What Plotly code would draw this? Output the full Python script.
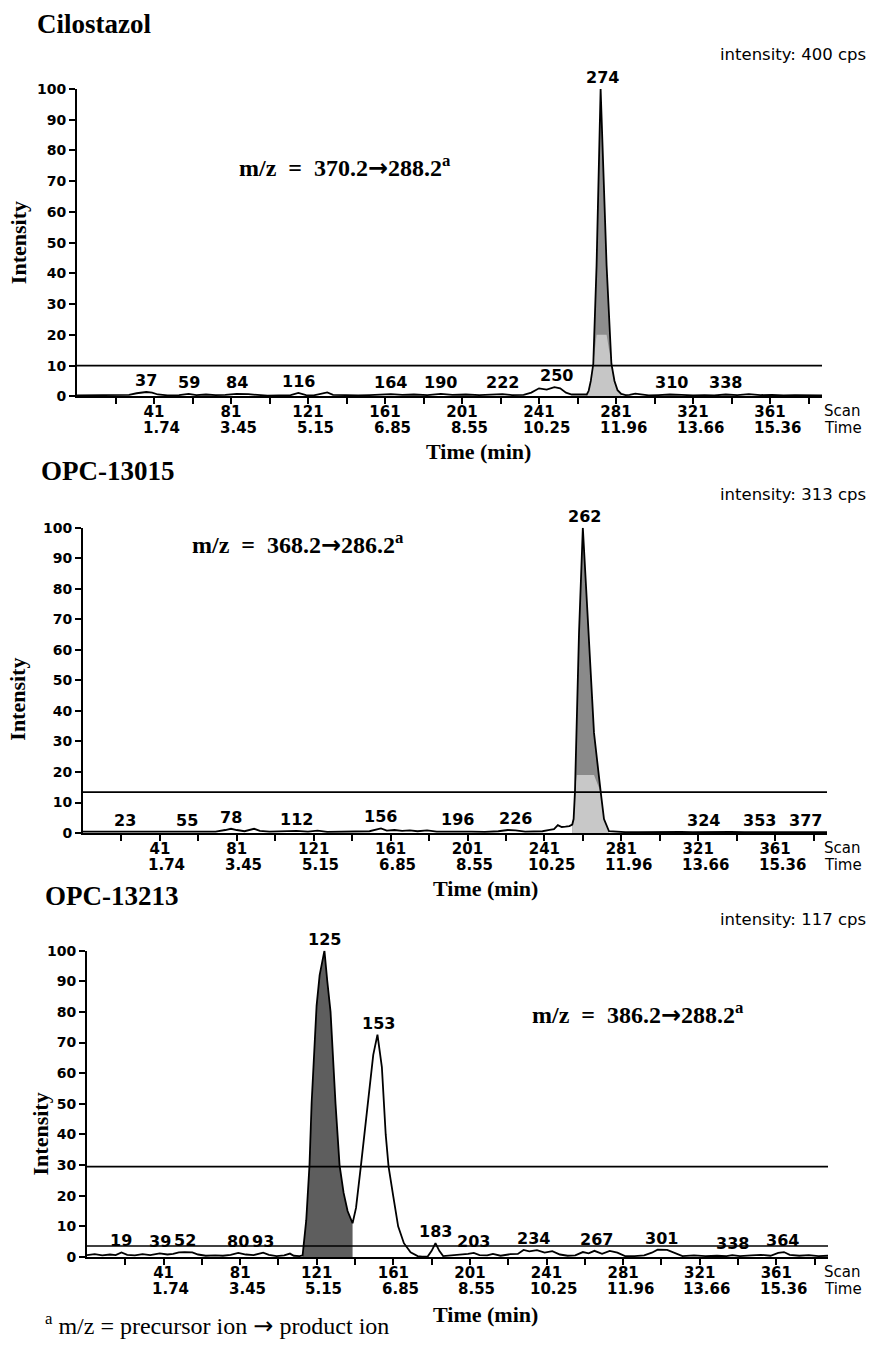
import plotly.graph_objects as go

W, H = 875, 1345

# ---------------- data ----------------
tick_scans = [21, 41, 61, 81, 101, 121, 141, 161, 181, 201, 221, 241, 261, 281, 301, 321, 341, 361, 381]
labeled_scans = [41, 81, 121, 161, 201, 241, 281, 321, 361]
time_labels = ['1.74', '3.45', '5.15', '6.85', '8.55', '10.25', '11.96', '13.66', '15.36']
y_ticks = [0, 10, 20, 30, 40, 50, 60, 70, 80, 90, 100]

# Cilostazol  (m/z 370.2 -> 288.2)
cilo_scan = [1, 8, 15, 22, 28, 32, 35, 37, 40, 43,
             48, 54, 59, 63, 68, 73, 78, 84, 90, 95,
             100, 106, 112, 116, 120, 124, 128, 131, 134, 140,
             147, 153, 158, 164, 170, 176, 183, 190, 196, 203,
             210, 216, 222, 227, 233, 237, 241, 245, 249, 252,
             255, 258, 262, 265.8, 266.8, 267.9, 269.2, 270.9, 273, 276.1,
             278.6, 280.2, 281.8, 283.7, 286, 288, 291, 294, 298, 303,
             309, 315, 321, 327, 332, 338, 344, 350, 356, 362,
             368, 374, 380, 386, 388]
cilo_int = [0.3, 0.4, 0.3, 0.4, 0.5, 1.0, 1.3, 1.4, 1.2, 0.6,
            0.3, 0.4, 0.8, 0.4, 0.6, 0.4, 0.5, 0.8, 0.7, 0.5,
            0.2, 0.3, 0.4, 1.1, 0.4, 0.3, 0.9, 1.3, 0.5, 0.3,
            0.3, 0.4, 0.5, 0.7, 0.5, 0.6, 0.4, 0.8, 0.5, 0.6,
            0.4, 0.5, 0.7, 0.4, 0.5, 1.2, 2.6, 2.2, 3.0, 2.6,
            1.2, 0.6, 0.5, 0.6, 1.8, 5.0, 10.6, 42.6, 100, 42.6,
            10.6, 5.0, 2.0, 0.8, 0.4, 0.5, 0.9, 0.6, 0.3, 0.4,
            0.6, 0.5, 0.3, 0.4, 0.3, 0.6, 0.4, 0.7, 0.4, 0.5,
            0.3, 0.4, 0.3, 0.3, 0.3]
cilo_peaks = [37, 59, 84, 116, 164, 190, 222, 250, 274, 310, 338]
cilo_lines = [10]

# OPC-13015  (m/z 368.2 -> 286.2)
opc15_scan = [1, 8, 15, 23, 30, 38, 45, 55, 62, 70,
              75, 78, 81, 85, 90, 93, 98, 105, 112, 118,
              123, 128, 135, 142, 150, 156, 159, 163, 167, 171,
              175, 180, 185, 190, 196, 203, 210, 217, 222, 226,
              231, 236, 240, 243, 246, 248, 250, 252, 254, 255.5,
              256.2, 256.9, 257.8, 259, 261, 264.1, 266.8, 270.3, 272, 274.6,
              278, 283, 290, 297, 305, 312, 318, 324, 330, 338,
              345, 353, 360, 367, 377, 383, 388]
opc15_int = [0.5, 0.5, 0.4, 0.5, 0.5, 0.4, 0.5, 0.5, 0.4, 0.5,
             1.0, 1.4, 1.0, 0.6, 1.4, 0.7, 0.5, 0.6, 0.7, 0.5,
             0.8, 0.4, 0.5, 0.4, 0.6, 1.5, 0.8, 1.0, 0.7, 0.9,
             0.6, 0.9, 0.5, 0.5, 0.6, 0.5, 0.4, 0.6, 1.0, 0.9,
             0.5, 0.5, 0.6, 1.0, 1.3, 2.6, 2.0, 2.1, 2.3, 2.8,
             4.6, 13.4, 32.8, 65.4, 100, 65.4, 32.8, 13.4, 4.6, 0.6,
             0.4, 0.3, 0.3, 0.4, 0.3, 0.4, 0.3, 0.4, 0.3, 0.4,
             0.3, 0.4, 0.3, 0.3, 0.4, 0.3, 0.3]
opc15_peaks = [23, 55, 78, 112, 156, 196, 226, 262, 324, 353, 377]
opc15_lines = [13.4]

# OPC-13213  (m/z 386.2 -> 288.2)
opc13_scan = [1, 5, 9, 13, 16, 19, 22, 26, 30, 34,
              39, 43, 46, 49, 52, 56, 59, 63, 68, 72,
              76, 80, 84, 88, 93, 96, 100, 104, 107, 109,
              112, 113.6, 115.5, 117.2, 118.3, 119.5, 120.9, 122.5, 125, 126.5,
              128.2, 130.8, 132.9, 135, 137.1, 139.7, 141.5, 144, 147.5, 149,
              150.5, 152.7, 155, 157, 158.5, 161, 163.5, 166.5, 170, 173.7,
              176, 179, 181, 183, 185, 187, 191, 196, 200, 203,
              206, 210, 213, 217, 222, 226, 229, 232, 236, 240,
              244, 248, 252, 256, 260, 263, 266, 270, 274, 278,
              282, 287, 292, 296, 299, 304, 308, 312, 318, 324,
              330, 335, 338, 342, 348, 353, 358, 362, 365, 368,
              373, 378, 383, 388]
opc13_int = [0.6, 0.9, 0.5, 0.8, 0.6, 1.5, 0.7, 0.5, 0.9, 0.6,
             1.2, 0.8, 1.0, 1.5, 1.6, 1.5, 0.8, 0.4, 0.5, 0.4,
             0.7, 1.3, 0.8, 0.6, 1.4, 0.7, 0.3, 0.5, 1.1, 0.4,
             0.3, 0.5, 12, 30, 50, 65, 82, 92, 100, 90,
             80, 50, 30, 21, 15, 11, 16, 29.5, 50, 58,
             66, 72.6, 62, 40, 29.5, 19.6, 10, 4.5, 1.5, 0.3,
             0.1, 0.2, 2.0, 4.5, 2.0, 0.3, 0.5, 0.6, 1.0, 1.3,
             0.6, 0.5, 1.0, 0.4, 0.9, 1.0, 2.3, 1.8, 2.2, 1.4,
             1.9, 0.8, 0.4, 0.5, 1.6, 1.2, 2.0, 1.0, 2.0, 1.4,
             0.3, 0.3, 0.5, 1.4, 2.4, 2.3, 1.2, 0.3, 0.5, 0.3,
             0.4, 0.3, 0.6, 0.3, 0.5, 0.7, 0.4, 1.3, 1.6, 0.7,
             0.4, 0.6, 0.3, 0.4]
opc13_peaks = [19, 39, 52, 80, 93, 125, 153, 183, 203, 234, 267, 301, 338, 364]
opc13_lines = [29.5, 3.6]

assert len(cilo_scan) == len(cilo_int)
assert len(opc15_scan) == len(opc15_int)
assert len(opc13_scan) == len(opc13_int)

# ---------------- layout helpers ----------------
def px(x):
    return x / W

def py(y):
    return 1 - y / H

SERIF = 'Liberation Serif'
SANS = 'DejaVu Sans'
X_RANGE = [1, 388]
ARROW = '<span style="font-family:DejaVu Sans">\u2192</span>'

panels = [
    dict(title='Cilostazol', title_xy=(35, 16), cps='intensity: 400 cps', cps_y=47,
         mz='m/z\u00a0 =\u00a0 370.2' + ARROW + '288.2<sup>a</sup>', mz_xy=(237, 160),
         scans=cilo_scan, vals=cilo_int, peaks=cilo_peaks, lines=cilo_lines,
         xpx=(77, 822), ypx=(393, 82), fill=(265.8, 283.7), dark='#8e8e8e',
         light='#c6c6c6', cap=20, timemin=(478, 449), ylab=(18, 238)),
    dict(title='OPC-13015', title_xy=(39, 469), cps='intensity: 313 cps', cps_y=492,
         mz='m/z\u00a0 =\u00a0 368.2' + ARROW + '286.2<sup>a</sup>', mz_xy=(190, 542),
         scans=opc15_scan, vals=opc15_int, peaks=opc15_peaks, lines=opc15_lines,
         xpx=(83, 827), ypx=(835, 526), fill=(255.5, 274.6), dark='#8a8a8a',
         light='#c8c8c8', cap=19, timemin=(485, 891), ylab=(18, 700)),
    dict(title='OPC-13213', title_xy=(43, 899), cps='intensity: 117 cps', cps_y=922,
         mz='m/z\u00a0 =\u00a0 386.2' + ARROW + '288.2<sup>a</sup>', mz_xy=(530, 1018),
         scans=opc13_scan, vals=opc13_int, peaks=opc13_peaks, lines=opc13_lines,
         xpx=(87, 828), ypx=(1264, 954), fill=(113.6, 139.7), dark='#5e5e5e',
         light=None, cap=None, timemin=(486, 1322), ylab=(40, 1140)),
]

fig = go.Figure()
annotations = []
shapes = []
layout_axes = {}

tick_text = []
for s in tick_scans:
    tick_text.append(str(s) if s in labeled_scans else '')

for i, p in enumerate(panels, start=1):
    xa = 'x' if i == 1 else f'x{i}'
    ya = 'y' if i == 1 else f'y{i}'
    xkey = 'xaxis' if i == 1 else f'xaxis{i}'
    ykey = 'yaxis' if i == 1 else f'yaxis{i}'

    layout_axes[xkey] = dict(
        domain=[px(p['xpx'][0]), px(p['xpx'][1])], range=X_RANGE, anchor=ya,
        showline=True, linecolor='black', linewidth=2, ticks='outside',
        ticklen=6, tickwidth=2, tickcolor='black', tickvals=tick_scans,
        ticktext=tick_text, showgrid=False, zeroline=False, fixedrange=True,
        ticklabelstandoff=-5,
        tickfont=dict(family=SANS, size=15, color='black', weight='bold'),
    )
    layout_axes[ykey] = dict(
        domain=[py(p['ypx'][0]), py(p['ypx'][1])], range=[0, 100], anchor=xa,
        showline=True, linecolor='black', linewidth=2, ticks='outside',
        ticklen=6, tickwidth=2, tickcolor='black', tickvals=y_ticks,
        showgrid=False, zeroline=False, fixedrange=True,
        tickfont=dict(family=SANS, size=14, color='black', weight='bold'),
    )

    scans, vals = p['scans'], p['vals']
    f0, f1 = p['fill']
    fx = [s for s in scans if f0 <= s <= f1]
    fy = [v for s, v in zip(scans, vals) if f0 <= s <= f1]
    fig.add_trace(go.Scatter(x=fx, y=fy, xaxis=xa, yaxis=ya, mode='lines',
                             line=dict(width=0), fill='tozeroy',
                             fillcolor=p['dark'], hoverinfo='skip', showlegend=False))
    if p['light']:
        fig.add_trace(go.Scatter(x=fx, y=[min(v, p['cap']) for v in fy], xaxis=xa,
                                 yaxis=ya, mode='lines', line=dict(width=0),
                                 fill='tozeroy', fillcolor=p['light'],
                                 hoverinfo='skip', showlegend=False))
    fig.add_trace(go.Scatter(x=scans, y=vals, xaxis=xa, yaxis=ya, mode='lines',
                             line=dict(color='black', width=1.8),
                             showlegend=False, hoverinfo='skip'))

    for lv in p['lines']:
        shapes.append(dict(type='line', xref=xa, yref=ya, x0=X_RANGE[0],
                           x1=X_RANGE[1], y0=lv, y1=lv,
                           line=dict(color='black', width=1.6)))

    # peak labels
    for pk in p['peaks']:
        win = [v for s, v in zip(scans, vals) if abs(s - pk) <= 4]
        top = max(win) if win else 0.5
        annotations.append(dict(x=pk, y=top, xref=xa, yref=ya, text=str(pk),
                                showarrow=False, yanchor='bottom', yshift=0,
                                font=dict(family=SANS, size=16, color='black',
                                          weight='bold')))
    # time row
    for s, t in zip(labeled_scans, time_labels):
        annotations.append(dict(x=s, y=0, xref=xa, yref=ya, text=t,
                                showarrow=False, yanchor='middle', xanchor='center',
                                yshift=-32, xshift=7,
                                font=dict(family=SANS, size=15, color='black',
                                          weight='bold')))
    # Scan / Time words
    axis_y = p['ypx'][0]
    for txt, off in (('Scan', 15), ('Time', 32)):
        annotations.append(dict(x=px(822), y=py(axis_y + off), xref='paper',
                                yref='paper', text=txt, showarrow=False,
                                xanchor='left', yanchor='middle',
                                font=dict(family=SANS, size=15, color='black')))
    # title
    annotations.append(dict(x=px(p['title_xy'][0]), y=py(p['title_xy'][1]),
                            xref='paper', yref='paper', text='<b>%s</b>' % p['title'],
                            showarrow=False, xanchor='left', yanchor='middle',
                            font=dict(family=SERIF, size=27, color='black')))
    # cps
    annotations.append(dict(x=px(868), y=py(p['cps_y']), xref='paper', yref='paper',
                            text=p['cps'], showarrow=False, xanchor='right',
                            yanchor='middle',
                            font=dict(family=SANS, size=16.5, color='black')))
    # m/z
    annotations.append(dict(x=px(p['mz_xy'][0]), y=py(p['mz_xy'][1]), xref='paper',
                            yref='paper', text='<b>%s</b>' % p['mz'], showarrow=False,
                            xanchor='left', yanchor='middle',
                            font=dict(family=SERIF, size=24, color='black')))
    # Time (min)
    annotations.append(dict(x=px(p['timemin'][0]), y=py(p['timemin'][1]),
                            xref='paper', yref='paper', text='<b>Time (min)</b>',
                            showarrow=False, xanchor='center', yanchor='middle',
                            font=dict(family=SERIF, size=22, color='black')))
    # Intensity
    annotations.append(dict(x=px(p['ylab'][0]), y=py(p['ylab'][1]), xref='paper',
                            yref='paper', text='<b>Intensity</b>', showarrow=False,
                            textangle=-90, xanchor='center', yanchor='middle',
                            font=dict(family=SERIF, size=22, color='black')))

# footnote
annotations.append(dict(x=px(43), y=py(1332), xref='paper', yref='paper',
                        text='<sup>a</sup> m/z = precursor ion ' + ARROW + ' product ion',
                        showarrow=False, xanchor='left', yanchor='middle',
                        font=dict(family=SERIF, size=24, color='black')))

fig.update_layout(
    width=W, height=H, margin=dict(l=0, r=0, t=0, b=0),
    paper_bgcolor='white', plot_bgcolor='white',
    annotations=annotations, shapes=shapes, showlegend=False,
    **layout_axes,
)

fig.write_html(
    'out.html',
    config={'displayModeBar': False, 'staticPlot': True},
    post_script="document.body.style.margin='0';document.body.style.padding='0';"
                "document.body.style.overflow='hidden';"
                "document.documentElement.style.overflow='hidden';",
)
